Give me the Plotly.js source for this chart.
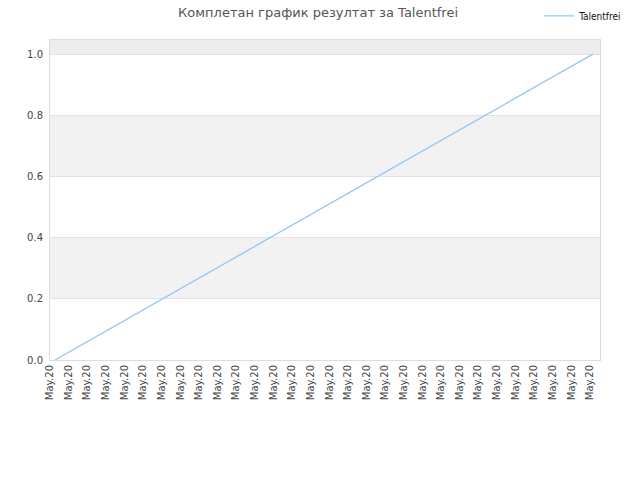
<!DOCTYPE html>
<html>
<head>
<meta charset="utf-8">
<script src="https://cdn.plot.ly/plotly-3.0.1.min.js"></script>
<style>
  html, body { margin: 0; padding: 0; background: #fff; }
  #chart { width: 640px; height: 480px; }
</style>
</head>
<body>
<div id="chart"></div>
<script>
// tick positions and labels along the bottom (one per day, all read as "May.20")
const tickPositions = [0, 1, 2, 3, 4, 5, 6, 7, 8, 9, 10, 11, 12, 13, 14,
  15, 16, 17, 18, 19, 20, 21, 22, 23, 24, 25, 26, 27, 28, 29];
const tickLabels = tickPositions.map(() => 'May.20');

// series
const seriesName = 'Talentfrei';
const seriesX = [0.27, 29.16];
const seriesY = [0, 1];

// alternating background bands on the y axis
const bandStarts = [0.2, 0.6, 1.0];
const bandEnds = [0.4, 0.8, 1.2];
const bandColors = ['#f2f2f2', '#f2f2f2', '#ededed'];

const font = 'DejaVu Sans, Verdana, sans-serif';

const trace = {
  x: seriesX,
  y: seriesY,
  mode: 'lines',
  type: 'scatter',
  name: seriesName,
  line: { color: '#95c5f6', width: 1.3 },
  hoverinfo: 'skip'
};

const shapes = bandStarts.map((y0, i) => ({
  type: 'rect',
  xref: 'paper',
  yref: 'y',
  x0: 0,
  x1: 1,
  y0,
  y1: bandEnds[i],
  fillcolor: bandColors[i],
  line: { width: 0 },
  layer: 'below'
}));

const layout = {
  width: 640,
  height: 480,
  margin: { l: 50, r: 40, t: 40, b: 120, autoexpand: false },
  paper_bgcolor: '#ffffff',
  plot_bgcolor: '#ffffff',
  font: { family: font, size: 10, color: '#444444' },
  title: {
    text: 'Комплетан график резултат за Talentfrei',
    font: { family: font, size: 13, color: '#555555' },
    x: 0.497,
    xanchor: 'center',
    y: 0.975,
    yanchor: 'middle'
  },
  showlegend: true,
  legend: {
    xref: 'container',
    yref: 'container',
    x: 0.98,
    xanchor: 'right',
    y: 0.997,
    yanchor: 'top',
    font: { family: 'DejaVu Sans Condensed, DejaVu Sans, sans-serif', size: 10, color: '#111111' },
    bgcolor: 'rgba(0,0,0,0)',
    itemwidth: 30
  },
  xaxis: {
    range: [0, 29.54],
    tickmode: 'array',
    tickvals: tickPositions,
    ticktext: tickLabels,
    tickangle: -90,
    tickfont: { family: font, size: 10, color: '#444444' },
    showgrid: false,
    zeroline: false,
    showline: true,
    linecolor: '#dddddd',
    mirror: true,
    ticks: '',
    fixedrange: true
  },
  yaxis: {
    range: [0, 1.046],
    tickmode: 'array',
    tickvals: [0, 0.2, 0.4, 0.6, 0.8, 1.0],
    ticktext: ['0.0', '0.2', '0.4', '0.6', '0.8', '1.0'],
    tickfont: { family: font, size: 10, color: '#444444' },
    showgrid: true,
    gridcolor: '#e3e3e3',
    gridwidth: 1,
    zeroline: false,
    showline: true,
    linecolor: '#dddddd',
    mirror: true,
    ticks: '',
    ticklabelstandoff: 4,
    fixedrange: true
  },
  shapes
};

Plotly.newPlot('chart', [trace], layout, { displayModeBar: false, staticPlot: true });
</script>
</body>
</html>
